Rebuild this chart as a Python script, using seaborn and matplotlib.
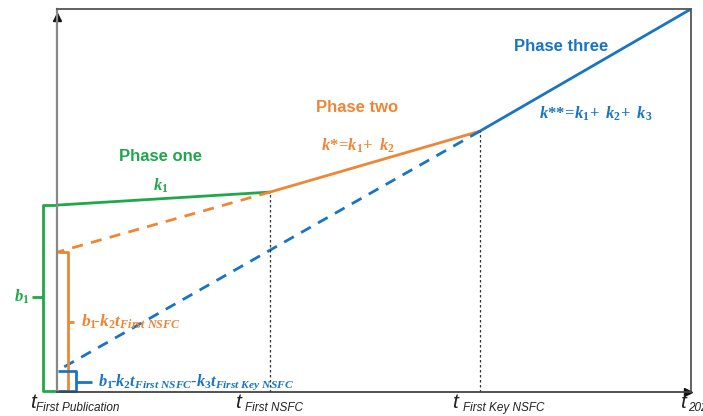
import matplotlib
matplotlib.use("Agg")
import matplotlib.pyplot as plt
import seaborn as sns
import pandas as pd

# ---- data ----
phase_names = ["Phase one", "Phase two", "Phase three"]
t_subscripts = ["First Publication", "First NSFC", "First Key NSFC", "2020"]
t_pos = [0.0, 3.36, 6.67, 10.0]
y_break = [48.8, 52.2, 68.1, 100.0]
orange_intercept = 36.5
blue_intercept = 5.5
slope_labels = [r"$k_1$", r"$k{*}\!=\!k_1\!+\ k_2$", r"$k{*}{*}\!=\!k_1\!+\ k_2\!+\ k_3$"]
bracket_labels = [r"$b_1$", r"$b_1\!\text{-}k_2t_{First\ NSFC}$",
                  r"$b_1\!\text{-}k_2t_{First\ NSFC}\text{-}k_3t_{First\ Key\ NSFC}$"]

GREEN = "#1fa84a"
ORANGE = "#ee8636"
BLUE = "#1874c4"
colors = [GREEN, ORANGE, BLUE]

sns.set_style("white")
plt.rcParams["font.family"] = ["Liberation Sans", "DejaVu Sans"]
plt.rcParams["mathtext.fontset"] = "custom"
plt.rcParams["mathtext.it"] = "Liberation Serif:italic:bold"
plt.rcParams["mathtext.rm"] = "Liberation Serif:bold"
plt.rcParams["mathtext.bf"] = "Liberation Serif:bold"
plt.rcParams["mathtext.sf"] = "Liberation Sans:italic"

fig = plt.figure(figsize=(7.03, 4.16), dpi=100)
ax = fig.add_axes([57 / 703, 24 / 416, 634 / 703, 383 / 416])
ax.set_xlim(0, 10)
ax.set_ylim(0, 100)

# solid phase segments
seg = pd.DataFrame({
    "x": [t_pos[0], t_pos[1], t_pos[1], t_pos[2], t_pos[2], t_pos[3]],
    "y": [y_break[0], y_break[1], y_break[1], y_break[2], y_break[2], y_break[3]],
    "phase": [phase_names[0]] * 2 + [phase_names[1]] * 2 + [phase_names[2]] * 2,
})
sns.lineplot(data=seg, x="x", y="y", hue="phase", palette=colors, ax=ax,
             linewidth=2, legend=False, sort=False, estimator=None)

# dashed extrapolations
dash = pd.DataFrame({
    "x": [t_pos[1], t_pos[0], t_pos[2], t_pos[0]],
    "y": [y_break[1], orange_intercept, y_break[2], blue_intercept],
    "line": ["o", "o", "b", "b"],
})
sns.lineplot(data=dash, x="x", y="y", hue="line", palette=[ORANGE, BLUE], ax=ax,
             linewidth=2, linestyle=(0, (4, 3)), legend=False, sort=False, estimator=None)

# vertical dotted guides
ax.vlines([t_pos[1], t_pos[2]], 0, [y_break[1], y_break[2]], colors="#333333",
          linestyles=(0, (2, 2)), linewidth=0.9)

# spines
for s in ["top", "right"]:
    ax.spines[s].set_color("#555555")
    ax.spines[s].set_linewidth(1.3)
ax.spines["left"].set_color("#888888")
ax.spines["left"].set_linewidth(1.6)
ax.spines["bottom"].set_color("#444444")
ax.spines["bottom"].set_linewidth(1.3)
ax.set_xticks([])
ax.set_yticks([])
ax.set_xlabel("")
ax.set_ylabel("")
ax.plot([0], [98.0], marker="^", color="#111111", markersize=6, clip_on=False)
ax.plot([9.95], [0], marker=">", color="#111111", markersize=6, clip_on=False)

# phase titles and slopes
ax.text(1.64, 61.4, phase_names[0], color=GREEN, fontsize=12, fontweight="bold", ha="center", va="center")
ax.text(4.73, 74.4, phase_names[1], color=ORANGE, fontsize=12, fontweight="bold", ha="center", va="center")
ax.text(7.95, 90.3, phase_names[2], color=BLUE, fontsize=12, fontweight="bold", ha="center", va="center")
ax.text(1.64, 53.8, slope_labels[0], color=GREEN, fontsize=12, ha="center", va="center")
ax.text(4.75, 64.2, slope_labels[1], color=ORANGE, fontsize=12, ha="center", va="center")
ax.text(8.5, 72.6, slope_labels[2], color=BLUE, fontsize=12, ha="center", va="center")

# brackets (outside/at axis edge)
def bracket(xv, y0, y1, xend, ymid, xmid, col):
    kw = dict(color=col, linewidth=2, clip_on=False, solid_capstyle="butt")
    ax.plot([xend, xv, xv, xend], [y1, y1, y0, y0], **kw)
    ax.plot([xv, xmid], [ymid, ymid], **kw)

bracket(-0.22, 0.2, y_break[0], 0.0, 24.8, -0.40, GREEN)
bracket(0.17, 0.2, orange_intercept, 0.02, 18.3, 0.27, ORANGE)
bracket(0.30, 0.2, blue_intercept, 0.02, 2.6, 0.55, BLUE)
ax.text(-0.44, 24.8, bracket_labels[0], color=GREEN, fontsize=12, ha="right", va="center")
ax.text(0.38, 18.3, bracket_labels[1], color=ORANGE, fontsize=12.5, ha="left", va="center")
ax.text(0.64, 2.6, bracket_labels[2], color=BLUE, fontsize=11.8, ha="left", va="center")

# x labels: big italic t with small italic subscript
t_off = [-0.43, -0.55, -0.44, -0.17]
sub_off = [-0.33, -0.39, -0.27, -0.05]
for tp, sub, to, so in zip(t_pos, t_subscripts, t_off, sub_off):
    ax.text(tp + to, -4.2, "t", fontsize=15, style="italic", ha="left", va="baseline",
            color="#222222", clip_on=False)
    ax.text(tp + so, -5.0, sub, fontsize=8.5, style="italic", ha="left", va="baseline",
            color="#222222", clip_on=False)

fig.savefig("out.png", dpi=100)
